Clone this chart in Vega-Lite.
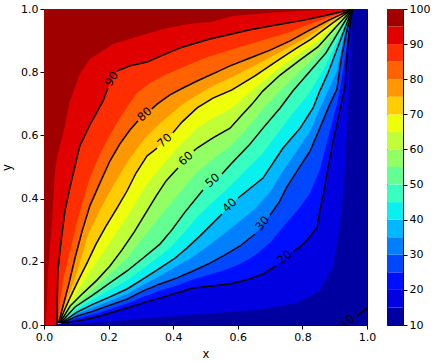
{
 "$schema": "https://vega.github.io/schema/vega-lite/v6.json",
 "padding": {"left": 1, "top": 2, "right": 5, "bottom": 3},
 "bounds": "flush",
 "spacing": 20,
 "config": {
  "font": "DejaVu Sans",
  "view": {"stroke": "black", "strokeWidth": 1},
  "axis": {"labelFont": "DejaVu Sans", "labelFontSize": 11, "labelColor": "black", "titleFont": "DejaVu Sans", "titleFontSize": 11.5, "titleFontWeight": "normal", "titleColor": "black", "tickColor": "black", "tickSize": 4, "domain": false, "grid": false, "labelPadding": 2}
 },
 "datasets": {
  "c": [
   {"lv":10,"s":"z","x":0,"y":0},{"lv":10,"s":"z","x":1,"y":0},
   {"lv":15,"s":"z","x":0,"y":0},
   {"lv":15,"s":"o","x":0.058,"y":0.003},{"lv":15,"s":"o","x":0.173,"y":0.009},{"lv":15,"s":"o","x":0.328,"y":0.022},{"lv":15,"s":"o","x":0.483,"y":0.035},{"lv":15,"s":"o","x":0.576,"y":0.041},{"lv":15,"s":"o","x":0.678,"y":0.051},{"lv":15,"s":"o","x":0.783,"y":0.070},{"lv":15,"s":"o","x":0.854,"y":0.108},{"lv":15,"s":"o","x":0.895,"y":0.187},{"lv":15,"s":"o","x":0.916,"y":0.313},{"lv":15,"s":"o","x":0.929,"y":0.456},{"lv":15,"s":"o","x":0.938,"y":0.614},{"lv":15,"s":"o","x":0.944,"y":0.741},{"lv":15,"s":"o","x":0.949,"y":0.835},{"lv":15,"s":"o","x":0.951,"y":0.915},{"lv":15,"s":"o","x":0.955,"y":1.0},
   {"lv":15,"s":"z","x":1,"y":1},
   {"lv":20,"s":"z","x":0,"y":0},
   {"lv":20,"s":"a","x":0.057,"y":0.006},{"lv":20,"s":"a","x":0.102,"y":0.013},{"lv":20,"s":"a","x":0.152,"y":0.022},{"lv":20,"s":"a","x":0.204,"y":0.038},{"lv":20,"s":"a","x":0.257,"y":0.054},{"lv":20,"s":"a","x":0.307,"y":0.070},{"lv":20,"s":"a","x":0.359,"y":0.085},{"lv":20,"s":"a","x":0.412,"y":0.101},{"lv":20,"s":"a","x":0.461,"y":0.117},{"lv":20,"s":"a","x":0.514,"y":0.123},{"lv":20,"s":"a","x":0.576,"y":0.130},{"lv":20,"s":"a","x":0.638,"y":0.146},{"lv":20,"s":"a","x":0.678,"y":0.161},{"lv":20,"s":"a","x":0.718,"y":0.187},
   {"lv":20,"s":"b","x":0.774,"y":0.234},{"lv":20,"s":"b","x":0.793,"y":0.247},{"lv":20,"s":"b","x":0.817,"y":0.272},{"lv":20,"s":"b","x":0.845,"y":0.307},{"lv":20,"s":"b","x":0.854,"y":0.361},{"lv":20,"s":"b","x":0.867,"y":0.424},{"lv":20,"s":"b","x":0.876,"y":0.478},{"lv":20,"s":"b","x":0.895,"y":0.582},{"lv":20,"s":"b","x":0.916,"y":0.677},{"lv":20,"s":"b","x":0.932,"y":0.756},{"lv":20,"s":"b","x":0.937,"y":0.839},{"lv":20,"s":"b","x":0.944,"y":0.918},{"lv":20,"s":"b","x":0.955,"y":1.0},
   {"lv":20,"s":"z","x":1,"y":1},
   {"lv":25,"s":"z","x":0,"y":0},
   {"lv":25,"s":"o","x":0.056,"y":0.005},{"lv":25,"s":"o","x":0.102,"y":0.021},{"lv":25,"s":"o","x":0.152,"y":0.033},{"lv":25,"s":"o","x":0.204,"y":0.051},{"lv":25,"s":"o","x":0.257,"y":0.068},{"lv":25,"s":"o","x":0.307,"y":0.089},{"lv":25,"s":"o","x":0.359,"y":0.108},{"lv":25,"s":"o","x":0.412,"y":0.125},{"lv":25,"s":"o","x":0.461,"y":0.144},{"lv":25,"s":"o","x":0.514,"y":0.160},{"lv":25,"s":"o","x":0.560,"y":0.174},{"lv":25,"s":"o","x":0.607,"y":0.193},{"lv":25,"s":"o","x":0.653,"y":0.220},{"lv":25,"s":"o","x":0.700,"y":0.261},{"lv":25,"s":"o","x":0.752,"y":0.324},{"lv":25,"s":"o","x":0.793,"y":0.373},{"lv":25,"s":"o","x":0.824,"y":0.418},{"lv":25,"s":"o","x":0.854,"y":0.492},{"lv":25,"s":"o","x":0.876,"y":0.578},{"lv":25,"s":"o","x":0.895,"y":0.653},{"lv":25,"s":"o","x":0.907,"y":0.699},{"lv":25,"s":"o","x":0.923,"y":0.785},{"lv":25,"s":"o","x":0.935,"y":0.867},{"lv":25,"s":"o","x":0.943,"y":0.927},{"lv":25,"s":"o","x":0.955,"y":1.0},
   {"lv":25,"s":"z","x":1,"y":1},
   {"lv":30,"s":"z","x":0,"y":0},
   {"lv":30,"s":"a","x":0.055,"y":0.006},{"lv":30,"s":"a","x":0.102,"y":0.028},{"lv":30,"s":"a","x":0.152,"y":0.044},{"lv":30,"s":"a","x":0.204,"y":0.063},{"lv":30,"s":"a","x":0.257,"y":0.082},{"lv":30,"s":"a","x":0.307,"y":0.108},{"lv":30,"s":"a","x":0.359,"y":0.130},{"lv":30,"s":"a","x":0.412,"y":0.149},{"lv":30,"s":"a","x":0.461,"y":0.171},{"lv":30,"s":"a","x":0.514,"y":0.196},{"lv":30,"s":"a","x":0.560,"y":0.222},{"lv":30,"s":"a","x":0.607,"y":0.250},{"lv":30,"s":"a","x":0.653,"y":0.288},
   {"lv":30,"s":"b","x":0.700,"y":0.348},{"lv":30,"s":"b","x":0.728,"y":0.389},{"lv":30,"s":"b","x":0.752,"y":0.437},{"lv":30,"s":"b","x":0.783,"y":0.487},{"lv":30,"s":"b","x":0.824,"y":0.551},{"lv":30,"s":"b","x":0.854,"y":0.623},{"lv":30,"s":"b","x":0.885,"y":0.699},{"lv":30,"s":"b","x":0.907,"y":0.747},{"lv":30,"s":"b","x":0.920,"y":0.842},{"lv":30,"s":"b","x":0.935,"y":0.921},{"lv":30,"s":"b","x":0.955,"y":1.0},
   {"lv":30,"s":"z","x":1,"y":1},
   {"lv":35,"s":"z","x":0,"y":0},
   {"lv":35,"s":"o","x":0.054,"y":0.005},{"lv":35,"s":"o","x":0.102,"y":0.035},{"lv":35,"s":"o","x":0.152,"y":0.055},{"lv":35,"s":"o","x":0.204,"y":0.076},{"lv":35,"s":"o","x":0.257,"y":0.098},{"lv":35,"s":"o","x":0.307,"y":0.127},{"lv":35,"s":"o","x":0.359,"y":0.155},{"lv":35,"s":"o","x":0.412,"y":0.187},{"lv":35,"s":"o","x":0.461,"y":0.215},{"lv":35,"s":"o","x":0.514,"y":0.255},{"lv":35,"s":"o","x":0.560,"y":0.291},{"lv":35,"s":"o","x":0.607,"y":0.329},{"lv":35,"s":"o","x":0.653,"y":0.367},{"lv":35,"s":"o","x":0.700,"y":0.421},{"lv":35,"s":"o","x":0.740,"y":0.487},{"lv":35,"s":"o","x":0.783,"y":0.551},{"lv":35,"s":"o","x":0.824,"y":0.614},{"lv":35,"s":"o","x":0.854,"y":0.684},{"lv":35,"s":"o","x":0.885,"y":0.753},{"lv":35,"s":"o","x":0.907,"y":0.804},{"lv":35,"s":"o","x":0.931,"y":0.921},{"lv":35,"s":"o","x":0.955,"y":1.0},
   {"lv":35,"s":"z","x":1,"y":1},
   {"lv":40,"s":"z","x":0,"y":0},
   {"lv":40,"s":"a","x":0.053,"y":0.006},{"lv":40,"s":"a","x":0.102,"y":0.041},{"lv":40,"s":"a","x":0.152,"y":0.066},{"lv":40,"s":"a","x":0.204,"y":0.089},{"lv":40,"s":"a","x":0.257,"y":0.114},{"lv":40,"s":"a","x":0.307,"y":0.146},{"lv":40,"s":"a","x":0.359,"y":0.180},{"lv":40,"s":"a","x":0.406,"y":0.212},{"lv":40,"s":"a","x":0.443,"y":0.244},{"lv":40,"s":"a","x":0.483,"y":0.282},{"lv":40,"s":"a","x":0.551,"y":0.351},
   {"lv":40,"s":"b","x":0.601,"y":0.402},{"lv":40,"s":"b","x":0.678,"y":0.465},{"lv":40,"s":"b","x":0.740,"y":0.560},{"lv":40,"s":"b","x":0.793,"y":0.623},{"lv":40,"s":"b","x":0.833,"y":0.687},{"lv":40,"s":"b","x":0.854,"y":0.741},{"lv":40,"s":"b","x":0.879,"y":0.797},{"lv":40,"s":"b","x":0.898,"y":0.848},{"lv":40,"s":"b","x":0.926,"y":0.924},{"lv":40,"s":"b","x":0.955,"y":1.0},
   {"lv":40,"s":"z","x":1,"y":1},
   {"lv":45,"s":"z","x":0,"y":0},
   {"lv":45,"s":"o","x":0.052,"y":0.005},{"lv":45,"s":"o","x":0.096,"y":0.046},{"lv":45,"s":"o","x":0.152,"y":0.081},{"lv":45,"s":"o","x":0.204,"y":0.111},{"lv":45,"s":"o","x":0.257,"y":0.142},{"lv":45,"s":"o","x":0.307,"y":0.179},{"lv":45,"s":"o","x":0.359,"y":0.218},{"lv":45,"s":"o","x":0.396,"y":0.250},{"lv":45,"s":"o","x":0.437,"y":0.297},{"lv":45,"s":"o","x":0.483,"y":0.351},{"lv":45,"s":"o","x":0.523,"y":0.389},{"lv":45,"s":"o","x":0.576,"y":0.440},{"lv":45,"s":"o","x":0.638,"y":0.503},{"lv":45,"s":"o","x":0.678,"y":0.544},{"lv":45,"s":"o","x":0.731,"y":0.617},{"lv":45,"s":"o","x":0.771,"y":0.671},{"lv":45,"s":"o","x":0.824,"y":0.737},{"lv":45,"s":"o","x":0.873,"y":0.823},{"lv":45,"s":"o","x":0.920,"y":0.926},{"lv":45,"s":"o","x":0.955,"y":1.0},
   {"lv":45,"s":"z","x":1,"y":1},
   {"lv":50,"s":"z","x":0,"y":0},
   {"lv":50,"s":"a","x":0.051,"y":0.006},{"lv":50,"s":"a","x":0.096,"y":0.057},{"lv":50,"s":"a","x":0.152,"y":0.095},{"lv":50,"s":"a","x":0.204,"y":0.133},{"lv":50,"s":"a","x":0.257,"y":0.171},{"lv":50,"s":"a","x":0.307,"y":0.212},{"lv":50,"s":"a","x":0.359,"y":0.256},{"lv":50,"s":"a","x":0.396,"y":0.301},{"lv":50,"s":"a","x":0.437,"y":0.358},{"lv":50,"s":"a","x":0.492,"y":0.427},
   {"lv":50,"s":"b","x":0.551,"y":0.478},{"lv":50,"s":"b","x":0.576,"y":0.506},{"lv":50,"s":"b","x":0.638,"y":0.573},{"lv":50,"s":"b","x":0.678,"y":0.623},{"lv":50,"s":"b","x":0.731,"y":0.687},{"lv":50,"s":"b","x":0.771,"y":0.741},{"lv":50,"s":"b","x":0.824,"y":0.804},{"lv":50,"s":"b","x":0.873,"y":0.861},{"lv":50,"s":"b","x":0.913,"y":0.930},{"lv":50,"s":"b","x":0.955,"y":1.0},
   {"lv":50,"s":"z","x":1,"y":1},
   {"lv":55,"s":"z","x":0,"y":0},
   {"lv":55,"s":"o","x":0.050,"y":0.005},{"lv":55,"s":"o","x":0.081,"y":0.051},{"lv":55,"s":"o","x":0.121,"y":0.085},{"lv":55,"s":"o","x":0.164,"y":0.123},{"lv":55,"s":"o","x":0.204,"y":0.161},{"lv":55,"s":"o","x":0.257,"y":0.212},{"lv":55,"s":"o","x":0.313,"y":0.285},{"lv":55,"s":"o","x":0.378,"y":0.367},{"lv":55,"s":"o","x":0.437,"y":0.440},{"lv":55,"s":"o","x":0.474,"y":0.484},{"lv":55,"s":"o","x":0.523,"y":0.525},{"lv":55,"s":"o","x":0.576,"y":0.566},{"lv":55,"s":"o","x":0.638,"y":0.633},{"lv":55,"s":"o","x":0.678,"y":0.684},{"lv":55,"s":"o","x":0.731,"y":0.741},{"lv":55,"s":"o","x":0.793,"y":0.804},{"lv":55,"s":"o","x":0.848,"y":0.858},{"lv":55,"s":"o","x":0.907,"y":0.934},{"lv":55,"s":"o","x":0.955,"y":1.0},
   {"lv":55,"s":"z","x":1,"y":1},
   {"lv":60,"s":"z","x":0,"y":0},
   {"lv":60,"s":"a","x":0.049,"y":0.006},{"lv":60,"s":"a","x":0.081,"y":0.060},{"lv":60,"s":"a","x":0.121,"y":0.101},{"lv":60,"s":"a","x":0.164,"y":0.142},{"lv":60,"s":"a","x":0.204,"y":0.187},{"lv":60,"s":"a","x":0.241,"y":0.237},{"lv":60,"s":"a","x":0.279,"y":0.294},{"lv":60,"s":"a","x":0.313,"y":0.351},{"lv":60,"s":"a","x":0.347,"y":0.408},{"lv":60,"s":"a","x":0.378,"y":0.456},{"lv":60,"s":"a","x":0.406,"y":0.487},{"lv":60,"s":"a","x":0.415,"y":0.497},
   {"lv":60,"s":"b","x":0.464,"y":0.551},{"lv":60,"s":"b","x":0.474,"y":0.560},{"lv":60,"s":"b","x":0.523,"y":0.592},{"lv":60,"s":"b","x":0.576,"y":0.623},{"lv":60,"s":"b","x":0.607,"y":0.658},{"lv":60,"s":"b","x":0.644,"y":0.699},{"lv":60,"s":"b","x":0.678,"y":0.741},{"lv":60,"s":"b","x":0.731,"y":0.791},{"lv":60,"s":"b","x":0.793,"y":0.839},{"lv":60,"s":"b","x":0.848,"y":0.880},{"lv":60,"s":"b","x":0.901,"y":0.940},{"lv":60,"s":"b","x":0.955,"y":1.0},
   {"lv":60,"s":"z","x":1,"y":1},
   {"lv":65,"s":"z","x":0,"y":0},
   {"lv":65,"s":"o","x":0.048,"y":0.005},{"lv":65,"s":"o","x":0.065,"y":0.044},{"lv":65,"s":"o","x":0.081,"y":0.073},{"lv":65,"s":"o","x":0.133,"y":0.155},{"lv":65,"s":"o","x":0.192,"y":0.244},{"lv":65,"s":"o","x":0.257,"y":0.342},{"lv":65,"s":"o","x":0.319,"y":0.446},{"lv":65,"s":"o","x":0.375,"y":0.516},{"lv":65,"s":"o","x":0.427,"y":0.576},{"lv":65,"s":"o","x":0.474,"y":0.623},{"lv":65,"s":"o","x":0.523,"y":0.655},{"lv":65,"s":"o","x":0.582,"y":0.687},{"lv":65,"s":"o","x":0.653,"y":0.750},{"lv":65,"s":"o","x":0.731,"y":0.816},{"lv":65,"s":"o","x":0.793,"y":0.861},{"lv":65,"s":"o","x":0.848,"y":0.899},{"lv":65,"s":"o","x":0.895,"y":0.946},{"lv":65,"s":"o","x":0.955,"y":1.0},
   {"lv":65,"s":"z","x":1,"y":1},
   {"lv":70,"s":"z","x":0,"y":0},
   {"lv":70,"s":"a","x":0.047,"y":0.006},{"lv":70,"s":"a","x":0.062,"y":0.044},{"lv":70,"s":"a","x":0.080,"y":0.085},{"lv":70,"s":"a","x":0.105,"y":0.139},{"lv":70,"s":"a","x":0.133,"y":0.196},{"lv":70,"s":"a","x":0.161,"y":0.256},{"lv":70,"s":"a","x":0.192,"y":0.313},{"lv":70,"s":"a","x":0.226,"y":0.370},{"lv":70,"s":"a","x":0.257,"y":0.424},{"lv":70,"s":"a","x":0.285,"y":0.481},{"lv":70,"s":"a","x":0.319,"y":0.535},{"lv":70,"s":"a","x":0.350,"y":0.560},
   {"lv":70,"s":"b","x":0.399,"y":0.608},{"lv":70,"s":"b","x":0.427,"y":0.642},{"lv":70,"s":"b","x":0.474,"y":0.687},{"lv":70,"s":"b","x":0.523,"y":0.718},{"lv":70,"s":"b","x":0.582,"y":0.744},{"lv":70,"s":"b","x":0.653,"y":0.788},{"lv":70,"s":"b","x":0.731,"y":0.842},{"lv":70,"s":"b","x":0.783,"y":0.877},{"lv":70,"s":"b","x":0.827,"y":0.905},{"lv":70,"s":"b","x":0.890,"y":0.953},{"lv":70,"s":"b","x":0.955,"y":1.0},
   {"lv":70,"s":"z","x":1,"y":1},
   {"lv":75,"s":"z","x":0,"y":0},
   {"lv":75,"s":"o","x":0.046,"y":0.005},{"lv":75,"s":"o","x":0.055,"y":0.035},{"lv":75,"s":"o","x":0.070,"y":0.076},{"lv":75,"s":"o","x":0.093,"y":0.139},{"lv":75,"s":"o","x":0.108,"y":0.187},{"lv":75,"s":"o","x":0.136,"y":0.285},{"lv":75,"s":"o","x":0.173,"y":0.364},{"lv":75,"s":"o","x":0.217,"y":0.446},{"lv":75,"s":"o","x":0.266,"y":0.528},{"lv":75,"s":"o","x":0.313,"y":0.592},{"lv":75,"s":"o","x":0.350,"y":0.630},{"lv":75,"s":"o","x":0.390,"y":0.665},{"lv":75,"s":"o","x":0.430,"y":0.699},{"lv":75,"s":"o","x":0.474,"y":0.728},{"lv":75,"s":"o","x":0.523,"y":0.756},{"lv":75,"s":"o","x":0.582,"y":0.785},{"lv":75,"s":"o","x":0.638,"y":0.813},{"lv":75,"s":"o","x":0.731,"y":0.864},{"lv":75,"s":"o","x":0.811,"y":0.908},{"lv":75,"s":"o","x":0.885,"y":0.959},{"lv":75,"s":"o","x":0.955,"y":1.0},
   {"lv":75,"s":"z","x":1,"y":1},
   {"lv":80,"s":"z","x":0,"y":0},
   {"lv":80,"s":"a","x":0.045,"y":0.006},{"lv":80,"s":"a","x":0.059,"y":0.060},{"lv":80,"s":"a","x":0.077,"y":0.130},{"lv":80,"s":"a","x":0.096,"y":0.212},{"lv":80,"s":"a","x":0.118,"y":0.297},{"lv":80,"s":"a","x":0.142,"y":0.377},{"lv":80,"s":"a","x":0.173,"y":0.449},{"lv":80,"s":"a","x":0.204,"y":0.519},{"lv":80,"s":"a","x":0.235,"y":0.573},{"lv":80,"s":"a","x":0.266,"y":0.617},{"lv":80,"s":"a","x":0.291,"y":0.646},
   {"lv":80,"s":"b","x":0.334,"y":0.684},{"lv":80,"s":"b","x":0.350,"y":0.699},{"lv":80,"s":"b","x":0.390,"y":0.728},{"lv":80,"s":"b","x":0.430,"y":0.750},{"lv":80,"s":"b","x":0.474,"y":0.772},{"lv":80,"s":"b","x":0.536,"y":0.801},{"lv":80,"s":"b","x":0.576,"y":0.820},{"lv":80,"s":"b","x":0.638,"y":0.845},{"lv":80,"s":"b","x":0.700,"y":0.870},{"lv":80,"s":"b","x":0.762,"y":0.899},{"lv":80,"s":"b","x":0.811,"y":0.927},{"lv":80,"s":"b","x":0.882,"y":0.965},{"lv":80,"s":"b","x":0.955,"y":1.0},
   {"lv":80,"s":"z","x":1,"y":1},
   {"lv":85,"s":"z","x":0,"y":0},
   {"lv":85,"s":"o","x":0.043,"y":0.003},{"lv":85,"s":"o","x":0.050,"y":0.076},{"lv":85,"s":"o","x":0.062,"y":0.155},{"lv":85,"s":"o","x":0.081,"y":0.234},{"lv":85,"s":"o","x":0.099,"y":0.313},{"lv":85,"s":"o","x":0.118,"y":0.383},{"lv":85,"s":"o","x":0.139,"y":0.456},{"lv":85,"s":"o","x":0.161,"y":0.513},{"lv":85,"s":"o","x":0.189,"y":0.573},{"lv":85,"s":"o","x":0.220,"y":0.630},{"lv":85,"s":"o","x":0.254,"y":0.684},{"lv":85,"s":"o","x":0.288,"y":0.734},{"lv":85,"s":"o","x":0.328,"y":0.766},{"lv":85,"s":"o","x":0.375,"y":0.791},{"lv":85,"s":"o","x":0.430,"y":0.816},{"lv":85,"s":"o","x":0.498,"y":0.845},{"lv":85,"s":"o","x":0.576,"y":0.870},{"lv":85,"s":"o","x":0.669,"y":0.899},{"lv":85,"s":"o","x":0.762,"y":0.927},{"lv":85,"s":"o","x":0.808,"y":0.946},{"lv":85,"s":"o","x":0.879,"y":0.973},{"lv":85,"s":"o","x":0.955,"y":1.0},
   {"lv":85,"s":"z","x":1,"y":1},
   {"lv":90,"s":"z","x":0,"y":0},
   {"lv":90,"s":"a","x":0.040,"y":0.0},{"lv":90,"s":"a","x":0.041,"y":0.076},{"lv":90,"s":"a","x":0.043,"y":0.171},{"lv":90,"s":"a","x":0.053,"y":0.266},{"lv":90,"s":"a","x":0.065,"y":0.361},{"lv":90,"s":"a","x":0.080,"y":0.434},{"lv":90,"s":"a","x":0.096,"y":0.503},{"lv":90,"s":"a","x":0.111,"y":0.567},{"lv":90,"s":"a","x":0.142,"y":0.633},{"lv":90,"s":"a","x":0.183,"y":0.709},{"lv":90,"s":"a","x":0.198,"y":0.750},
   {"lv":90,"s":"b","x":0.226,"y":0.804},{"lv":90,"s":"b","x":0.266,"y":0.820},{"lv":90,"s":"b","x":0.319,"y":0.832},{"lv":90,"s":"b","x":0.368,"y":0.854},{"lv":90,"s":"b","x":0.430,"y":0.880},{"lv":90,"s":"b","x":0.514,"y":0.905},{"lv":90,"s":"b","x":0.638,"y":0.934},{"lv":90,"s":"b","x":0.740,"y":0.953},{"lv":90,"s":"b","x":0.802,"y":0.964},{"lv":90,"s":"b","x":0.878,"y":0.981},{"lv":90,"s":"b","x":0.955,"y":1.0},
   {"lv":90,"s":"z","x":1,"y":1},
   {"lv":95,"s":"z","x":0,"y":0},
   {"lv":95,"s":"o","x":0.006,"y":0.0},{"lv":95,"s":"o","x":0.012,"y":0.171},{"lv":95,"s":"o","x":0.025,"y":0.329},{"lv":95,"s":"o","x":0.034,"y":0.487},{"lv":95,"s":"o","x":0.043,"y":0.544},{"lv":95,"s":"o","x":0.059,"y":0.604},{"lv":95,"s":"o","x":0.080,"y":0.709},{"lv":95,"s":"o","x":0.111,"y":0.794},{"lv":95,"s":"o","x":0.142,"y":0.842},{"lv":95,"s":"o","x":0.214,"y":0.889},{"lv":95,"s":"o","x":0.297,"y":0.915},{"lv":95,"s":"o","x":0.368,"y":0.937},{"lv":95,"s":"o","x":0.452,"y":0.953},{"lv":95,"s":"o","x":0.514,"y":0.959},{"lv":95,"s":"o","x":0.585,"y":0.978},{"lv":95,"s":"o","x":0.690,"y":0.987},{"lv":95,"s":"o","x":0.793,"y":0.994},{"lv":95,"s":"o","x":0.876,"y":0.997},{"lv":95,"s":"o","x":0.955,"y":1.0},
   {"lv":95,"s":"z","x":1,"y":1},
   {"lv":10,"s":"c","x":0.969,"y":0.028},{"lv":10,"s":"c","x":1.0,"y":0.054}
  ],
  "labels": [
   {"t":"90","x":0.211,"y":0.778,"r":-58},
   {"t":"80","x":0.313,"y":0.665,"r":-41},
   {"t":"70","x":0.375,"y":0.582,"r":-43},
   {"t":"60","x":0.440,"y":0.525,"r":-42},
   {"t":"50","x":0.523,"y":0.456,"r":-40},
   {"t":"40","x":0.576,"y":0.377,"r":-43},
   {"t":"30","x":0.678,"y":0.320,"r":-50},
   {"t":"20","x":0.746,"y":0.212,"r":-40},
   {"t":"10","x":0.941,"y":0.009,"r":-40}
  ],
  "bar": [
   {"lv":10,"hi":15},{"lv":15,"hi":20},{"lv":20,"hi":25},{"lv":25,"hi":30},{"lv":30,"hi":35},{"lv":35,"hi":40},
   {"lv":40,"hi":45},{"lv":45,"hi":50},{"lv":50,"hi":55},{"lv":55,"hi":60},{"lv":60,"hi":65},{"lv":65,"hi":70},
   {"lv":70,"hi":75},{"lv":75,"hi":80},{"lv":80,"hi":85},{"lv":85,"hi":90},{"lv":90,"hi":95},{"lv":95,"hi":100}
  ]
 },
 "hconcat": [
  {
   "width": 323,
   "height": 316,
   "layer": [
    {
     "data": {"name": "c"},
     "transform": [{"filter": "datum.s != 'c'"}],
     "mark": {"type": "area", "clip": true, "interpolate": "linear"},
     "encoding": {
      "x": {"field": "x", "type": "quantitative", "scale": {"domain": [0, 1], "nice": false, "zero": false}, "axis": {"values": [0, 0.2, 0.4, 0.6, 0.8, 1], "format": ".1f", "title": "x", "labelFlush": false, "titlePadding": 6}},
      "y": {"field": "y", "type": "quantitative", "stack": null, "scale": {"domain": [0, 1], "nice": false, "zero": false}, "axis": {"values": [0, 0.2, 0.4, 0.6, 0.8, 1], "format": ".1f", "title": "y", "labelFlush": false, "titlePadding": 8}},
      "y2": {"datum": 1},
      "color": {"field": "lv", "type": "ordinal", "legend": null, "scale": {"domain": [10,15,20,25,30,35,40,45,50,55,60,65,70,75,80,85,90,95], "range": ["#0000a0","#0000e0","#000eff","#0047ff","#0080ff","#00b8ff","#09f1ee","#37ffc0","#64ff92","#92ff64","#c0ff37","#eeff09","#ffcc00","#ff9700","#ff6200","#ff2e00","#e00000","#a00000"]}}
     }
    },
    {
     "data": {"name": "c"},
     "transform": [{"filter": "datum.s == 'a' || datum.s == 'b' || datum.s == 'c'"}],
     "mark": {"type": "line", "color": "black", "strokeWidth": 1.5, "clip": true},
     "encoding": {
      "x": {"field": "x", "type": "quantitative"},
      "y": {"field": "y", "type": "quantitative"},
      "detail": [{"field": "lv", "type": "nominal"}, {"field": "s", "type": "nominal"}]
     }
    },
    {
     "data": {"name": "labels"},
     "mark": {"type": "text", "font": "DejaVu Sans", "fontSize": 11.5, "color": "black", "align": "center", "baseline": "middle", "clip": true},
     "encoding": {
      "x": {"field": "x", "type": "quantitative"},
      "y": {"field": "y", "type": "quantitative"},
      "text": {"field": "t"},
      "angle": {"field": "r", "type": "quantitative", "scale": null}
     }
    }
   ]
  },
  {
   "width": 16,
   "height": 316,
   "data": {"name": "bar"},
   "mark": {"type": "rect"},
   "encoding": {
    "x": {"datum": 0, "type": "quantitative", "scale": {"domain": [0, 1]}, "axis": null},
    "x2": {"datum": 1},
    "y": {"field": "lv", "type": "quantitative", "scale": {"domain": [10, 100], "nice": false, "zero": false}, "axis": {"orient": "right", "values": [10,20,30,40,50,60,70,80,90,100], "title": null}},
    "y2": {"field": "hi"},
    "color": {"field": "lv", "type": "ordinal", "legend": null}
   }
  }
 ]
}
